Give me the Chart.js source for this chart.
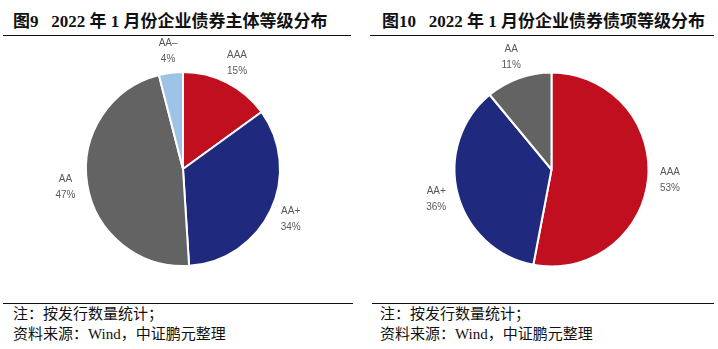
<!DOCTYPE html>
<html>
<head>
<meta charset="utf-8">
<script src="https://cdn.jsdelivr.net/npm/chart.js@4/dist/chart.umd.min.js"></script>
<style>
  body { margin: 0; width: 718px; height: 349px; background: #fff; overflow: hidden; position: relative; }
  .title { position: absolute; top: 7px; font: bold 17px "Liberation Serif", "Noto Sans CJK SC", serif; color: #111; white-space: pre; }
  .rule { position: absolute; height: 0; border-top: 1.5px solid #111; }
  .note { position: absolute; font: 15px/20px "Liberation Serif", "Noto Sans CJK SC", serif; color: #111; white-space: pre; }
  canvas { position: absolute; }
</style>
</head>
<body>
<div class="title" style="left:13px">图9   2022 年 1 月份企业债券主体等级分布</div>
<div class="rule" style="left:3px; width:348px; top:35px"></div>
<div class="title" style="left:382px">图10   2022 年 1 月份企业债券债项等级分布</div>
<div class="rule" style="left:370px; width:344px; top:35px"></div>

<canvas id="issuer_chart" width="366" height="266" style="left:0; top:36px"></canvas>
<canvas id="bond_chart" width="303" height="267" style="left:400px; top:36px"></canvas>

<div class="rule" style="left:3px; width:350px; top:303px"></div>
<div class="rule" style="left:372px; width:342px; top:303px"></div>
<div class="note" style="left:13px; top:304px">注：按发行数量统计；<br>资料来源：Wind，中证鹏元整理</div>
<div class="note" style="left:380px; top:304px">注：按发行数量统计；<br>资料来源：Wind，中证鹏元整理</div>

<script>
// 主体等级（%）
var issuer_labels = ["AAA", "AA+", "AA", "AA–"];
var issuer_values = [15, 34, 47, 4];
var issuer_colors = ["#C0101F", "#1F2A7E", "#636363", "#9DC3E6"];

// 债项等级（%）
var bond_labels = ["AAA", "AA+", "AA"];
var bond_values = [53, 36, 11];
var bond_colors = ["#C0101F", "#1F2A7E", "#636363"];

// 饼图外侧的两行标签：等级 + 百分比
var outsideLabels = {
  id: "outsideLabels",
  afterDatasetsDraw: function(chart) {
    var ctx = chart.ctx;
    var meta = chart.getDatasetMeta(0);
    var ds = chart.data.datasets[0];
    ctx.save();
    ctx.font = '10px "Liberation Sans", Arial, sans-serif';
    ctx.fillStyle = "#595959";
    ctx.textAlign = "center";
    ctx.textBaseline = "middle";
    meta.data.forEach(function(arc, i) {
      var mid = (arc.startAngle + arc.endAngle) / 2;
      var d = arc.outerRadius + 22;
      var x = arc.x + Math.cos(mid) * d;
      var y = arc.y + Math.sin(mid) * d;
      ctx.fillText(chart.data.labels[i], x, y - 8);
      ctx.fillText(ds.data[i] + "%", x, y + 8);
    });
    ctx.restore();
  }
};

function makePie(id, labels, values, colors) {
  return new Chart(document.getElementById(id), {
    type: "pie",
    data: {
      labels: labels,
      datasets: [{
        data: values,
        backgroundColor: colors,
        borderColor: "#ffffff",
        borderWidth: 2
      }]
    },
    options: {
      responsive: false,
      animation: false,
      radius: 97,
      plugins: {
        legend: { display: false },
        tooltip: { enabled: false }
      }
    },
    plugins: [outsideLabels]
  });
}

var issuer_chart = makePie("issuer_chart", issuer_labels, issuer_values, issuer_colors);
var bond_chart = makePie("bond_chart", bond_labels, bond_values, bond_colors);
</script>
</body>
</html>
